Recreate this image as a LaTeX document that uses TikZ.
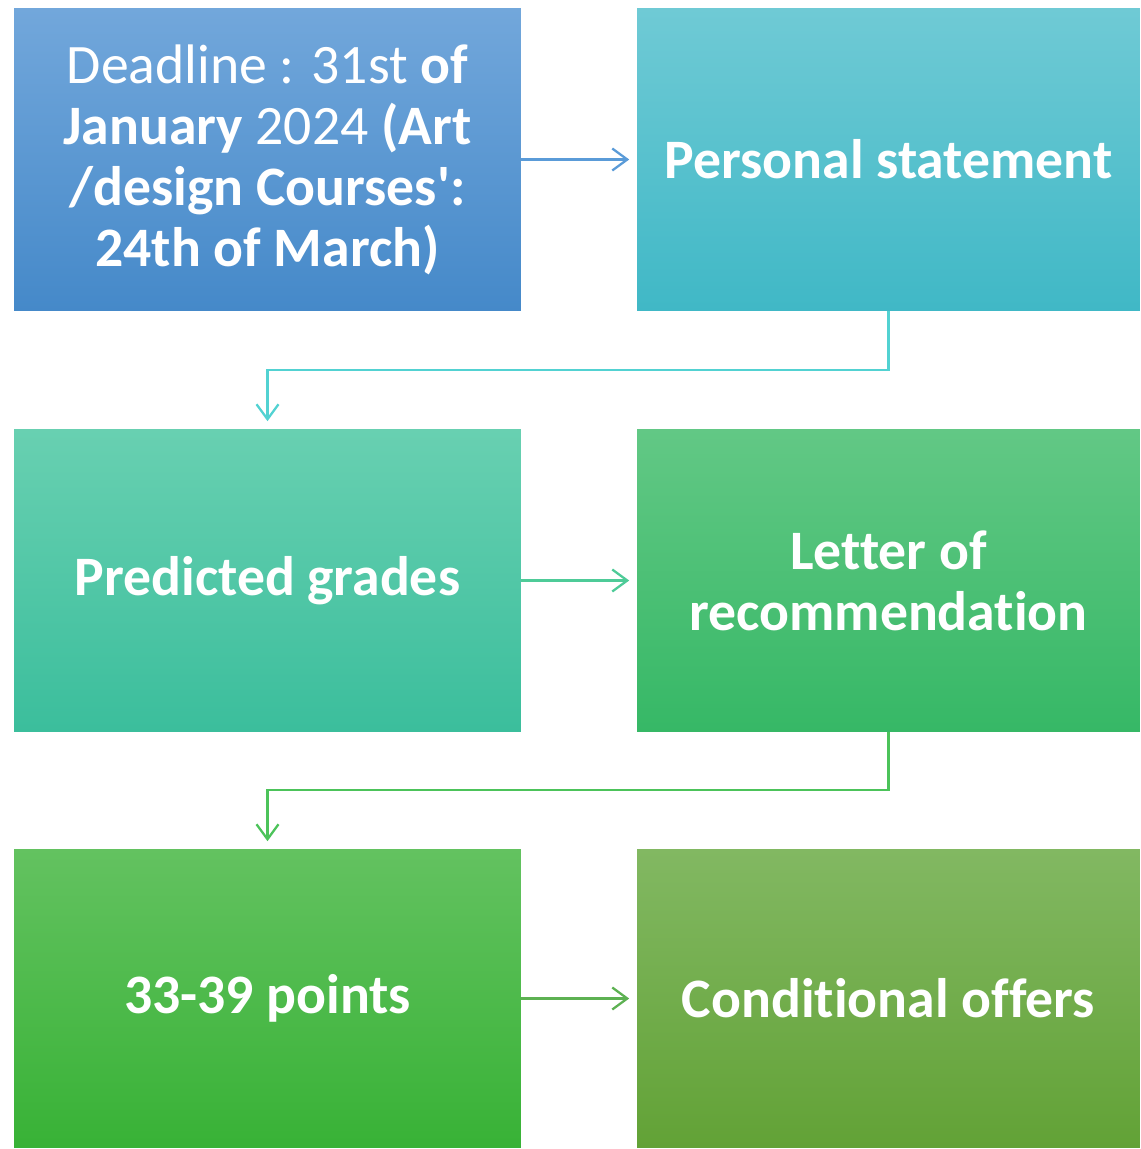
\documentclass[tikz,border=0pt]{standalone}
\usepackage{fontspec}
\setmainfont{Carlito}[Ligatures={TeX,NoCommon}]
\usetikzlibrary{positioning,arrows.meta}

\definecolor{dlTop}{HTML}{72A7DB}
\definecolor{dlBot}{HTML}{4589C9}
\definecolor{psTop}{HTML}{6FCAD5}
\definecolor{psBot}{HTML}{40B8C6}
\definecolor{pgTop}{HTML}{68D0B1}
\definecolor{pgBot}{HTML}{3BBE9C}
\definecolor{lrTop}{HTML}{62C885}
\definecolor{lrBot}{HTML}{36B866}
\definecolor{ptTop}{HTML}{63C260}
\definecolor{ptBot}{HTML}{38B236}
\definecolor{coTop}{HTML}{82B862}
\definecolor{coBot}{HTML}{62A236}
\definecolor{linkA}{HTML}{5A9BD8}
\definecolor{linkB}{HTML}{52D2D2}
\definecolor{linkC}{HTML}{4ECB98}
\definecolor{linkD}{HTML}{4CC35A}
\definecolor{linkE}{HTML}{5DB152}

\begin{document}
\begin{tikzpicture}[x=0.02cm,y=-0.02cm,
    stepbox/.style={rectangle,minimum width=10.14cm,minimum height=6.06cm,
      inner sep=0pt,align=center,text=white,
      font=\fontsize{31.7}{34.7}\selectfont\bfseries},
    link/.style={line width=1.3pt,-{Straight Barb[length=0.3cm,width=0.44cm,line width=1.3pt]},
      shorten >=0.15cm}]

    %fixing the page size
    \useasboundingbox (0,0) rectangle (1140,1149);

    %row one
    \node[stepbox,top color=dlTop,bottom color=dlBot] (dl) at (267.5,159.5)
      {\mdseries Deadline : 31st \textbf{of}\\
       January {\mdseries 2024} (Art\\
       /design Courses\textquotesingle:\\
       24th of March)};
    \node[stepbox,minimum width=10.06cm,top color=psTop,bottom color=psBot] (ps)
      at (888.5,159.5) {Personal statement};

    %row two
    \node[stepbox,top color=pgTop,bottom color=pgBot] (pg) at (267.5,580.5)
      {Predicted grades};
    \node[stepbox,minimum width=10.06cm,top color=lrTop,bottom color=lrBot] (lr)
      at (888.5,580.5) {Letter of\\ recommendation};

    %row three
    \node[stepbox,minimum height=5.98cm,top color=ptTop,bottom color=ptBot] (pt)
      at (267.5,998.5) {33-39 points};
    \node[stepbox,minimum width=10.06cm,minimum height=5.98cm,
      top color=coTop,bottom color=coBot] (co) at (888.5,998.5)
      {Conditional offers};

    %connectors
    \draw[link,linkA] (dl.east) -- (ps.west);
    \draw[link,linkB] (ps.south) -- ++(0,59) -| (pg.north);
    \draw[link,linkC] (pg.east) -- (lr.west);
    \draw[link,linkD] (lr.south) -- ++(0,58) -| (pt.north);
    \draw[link,linkE] (pt.east) -- (co.west);

  \end{tikzpicture}
\end{document}
